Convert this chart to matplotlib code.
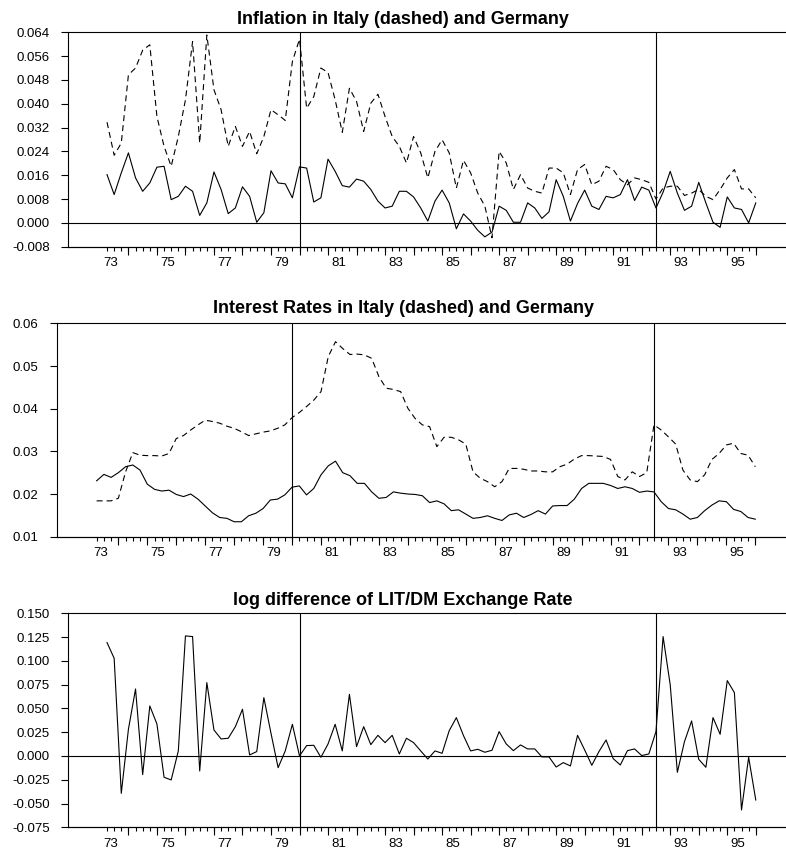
import numpy as np
import matplotlib
matplotlib.use("Agg")
import matplotlib.pyplot as plt
from matplotlib.ticker import FormatStrFormatter

plt.rcParams['font.family'] = ['Liberation Sans', 'DejaVu Sans']
plt.rcParams['lines.scale_dashes'] = False

# quarterly data, 1973Q2 .. 1996Q1
start = 1973.25
n_obs = 92
dates = start + 0.25 * np.arange(n_obs)

# inflation, Italy (dashed) and Germany
infl_italy = [
    0.0338, 0.0227, 0.0268, 0.0497, 0.0520, 0.0580, 0.0598, 0.0357, 0.0257, 0.0190,
    0.0290, 0.0413, 0.0609, 0.0268, 0.0631, 0.0447, 0.0380, 0.0257, 0.0324, 0.0257,
    0.0307, 0.0232, 0.0290, 0.0380, 0.0363, 0.0344, 0.0542, 0.0617, 0.0385, 0.0424,
    0.0520, 0.0505, 0.0413, 0.0304, 0.0452, 0.0408, 0.0307, 0.0402, 0.0432, 0.0357,
    0.0290, 0.0257, 0.0201, 0.0290, 0.0235, 0.0151, 0.0240, 0.0279, 0.0235, 0.0117,
    0.0210, 0.0168, 0.0100, 0.0056, -0.0050, 0.0240, 0.0201, 0.0112, 0.0162, 0.0117,
    0.0106, 0.0100, 0.0184, 0.0184, 0.0168, 0.0095, 0.0179, 0.0196, 0.0128, 0.0140,
    0.0190, 0.0179, 0.0145, 0.0128, 0.0151, 0.0145, 0.0136, 0.0080, 0.0117, 0.0123,
    0.0123, 0.0092, 0.0100, 0.0112, 0.0089, 0.0078, 0.0112, 0.0151, 0.0179, 0.0114,
    0.0114, 0.0084,
]
infl_germany = [
    0.0162, 0.0095, 0.0168, 0.0235, 0.0151, 0.0106, 0.0134, 0.0187, 0.0190, 0.0078,
    0.0089, 0.0123, 0.0106, 0.0025, 0.0067, 0.0171, 0.0112, 0.0031, 0.0050, 0.0121,
    0.0089, 0.0002, 0.0034, 0.0175, 0.0134, 0.0131, 0.0084, 0.0188, 0.0184, 0.0070,
    0.0084, 0.0214, 0.0173, 0.0125, 0.0120, 0.0147, 0.0140, 0.0112, 0.0073, 0.0050,
    0.0056, 0.0106, 0.0106, 0.0087, 0.0050, 0.0006, 0.0073, 0.0110, 0.0067, -0.0020,
    0.0030, 0.0006, -0.0025, -0.0047, -0.0031, 0.0056, 0.0042, 0.0002, 0.0002, 0.0067,
    0.0050, 0.0015, 0.0037, 0.0145, 0.0089, 0.0006, 0.0065, 0.0110, 0.0056, 0.0045,
    0.0089, 0.0084, 0.0095, 0.0145, 0.0075, 0.0120, 0.0110, 0.0050, 0.0103, 0.0173,
    0.0100, 0.0042, 0.0056, 0.0136, 0.0067, 0.0002, -0.0015, 0.0087, 0.0050, 0.0045,
    0.0000, 0.0067,
]

# interest rates, Italy (dashed) and Germany
rate_italy = [
    0.0184, 0.0184, 0.0184, 0.0190, 0.0252, 0.0297, 0.0291, 0.0290, 0.0290, 0.0289,
    0.0295, 0.0330, 0.0337, 0.0350, 0.0362, 0.0373, 0.0370, 0.0366, 0.0359, 0.0354,
    0.0346, 0.0337, 0.0341, 0.0345, 0.0348, 0.0354, 0.0362, 0.0379, 0.0391, 0.0405,
    0.0420, 0.0440, 0.0522, 0.0557, 0.0541, 0.0527, 0.0528, 0.0526, 0.0518, 0.0475,
    0.0448, 0.0445, 0.0440, 0.0401, 0.0377, 0.0362, 0.0358, 0.0311, 0.0333, 0.0333,
    0.0327, 0.0317, 0.0252, 0.0237, 0.0229, 0.0217, 0.0229, 0.0260, 0.0260, 0.0258,
    0.0254, 0.0254, 0.0252, 0.0252, 0.0264, 0.0270, 0.0282, 0.0290, 0.0290, 0.0289,
    0.0288, 0.0281, 0.0241, 0.0233, 0.0252, 0.0241, 0.0250, 0.0362, 0.0350, 0.0334,
    0.0317, 0.0256, 0.0233, 0.0229, 0.0245, 0.0281, 0.0295, 0.0315, 0.0319, 0.0295,
    0.0291, 0.0264,
]
rate_germany = [
    0.0231, 0.0246, 0.0239, 0.0250, 0.0264, 0.0268, 0.0256, 0.0223, 0.0211, 0.0207,
    0.0209, 0.0199, 0.0194, 0.0200, 0.0188, 0.0172, 0.0156, 0.0145, 0.0143, 0.0135,
    0.0135, 0.0149, 0.0155, 0.0166, 0.0186, 0.0188, 0.0198, 0.0216, 0.0219, 0.0198,
    0.0213, 0.0245, 0.0266, 0.0277, 0.0250, 0.0243, 0.0225, 0.0225, 0.0205, 0.0190,
    0.0192, 0.0205, 0.0202, 0.0200, 0.0199, 0.0196, 0.0180, 0.0184, 0.0177, 0.0161,
    0.0163, 0.0153, 0.0143, 0.0145, 0.0149, 0.0143, 0.0138, 0.0151, 0.0155, 0.0145,
    0.0152, 0.0161, 0.0153, 0.0172, 0.0173, 0.0173, 0.0188, 0.0213, 0.0225, 0.0225,
    0.0225, 0.0220, 0.0213, 0.0217, 0.0213, 0.0204, 0.0207, 0.0205, 0.0182, 0.0166,
    0.0163, 0.0153, 0.0141, 0.0145, 0.0161, 0.0174, 0.0184, 0.0182, 0.0164, 0.0159,
    0.0145, 0.0141,
]

# log difference of LIT/DM exchange rate
dlog_fx = [
    0.1192, 0.1027, -0.0393, 0.0280, 0.0704, -0.0196, 0.0526, 0.0336, -0.0224, -0.0252,
    0.0053, 0.1262, 0.1255, -0.0158, 0.0771, 0.0273, 0.0179, 0.0186, 0.0308, 0.0491,
    0.0011, 0.0046, 0.0613, 0.0238, -0.0123, 0.0053, 0.0333, 0.0000, 0.0109, 0.0112,
    -0.0014, 0.0126, 0.0333, 0.0053, 0.0648, 0.0098, 0.0308, 0.0119, 0.0217, 0.0140,
    0.0217, 0.0021, 0.0186, 0.0140, 0.0053, -0.0032, 0.0053, 0.0028, 0.0266, 0.0403,
    0.0214, 0.0053, 0.0070, 0.0039, 0.0060, 0.0256, 0.0126, 0.0056, 0.0116, 0.0074,
    0.0074, -0.0010, -0.0010, -0.0116, -0.0070, -0.0105, 0.0217, 0.0063, -0.0098, 0.0046,
    0.0168, -0.0028, -0.0095, 0.0056, 0.0074, 0.0004, 0.0021, 0.0256, 0.1255, 0.0747,
    -0.0172, 0.0151, 0.0368, -0.0035, -0.0119, 0.0403, 0.0228, 0.0792, 0.0666, -0.0568,
    -0.0014, -0.0463,
]

events = [1980.0, 1992.5]
label_years = list(range(1973, 1996, 2))

fig = plt.figure(figsize=(7.86, 8.5), dpi=100)


def setup_panel(rect, ylim, yticks, fmt, title, title_y, zero_line=True):
    ax = fig.add_axes(rect)
    ax.set_xlim(1971.87, 1997.06)
    ax.set_ylim(*ylim)
    ax.spines['right'].set_visible(False)
    for s in ['left', 'top', 'bottom']:
        ax.spines[s].set_linewidth(0.8)
    ax.set_yticks(yticks)
    ax.yaxis.set_major_formatter(FormatStrFormatter(fmt))
    ax.tick_params(axis='y', direction='out', length=5, width=0.8, labelsize=9.5, pad=8)

    # labels centred on each odd year, quarter ticks, longer year ticks
    ax.set_xticks([y + 0.375 for y in label_years])
    ax.set_xticklabels(["%02d" % (y % 100) for y in label_years])
    ax.tick_params(axis='x', which='major', length=0, labelsize=9.5, pad=7.5)
    ax.set_xticks(dates, minor=True)
    ax.tick_params(axis='x', which='minor', direction='out', length=3.2, width=0.8)
    sec = ax.secondary_xaxis('bottom')
    sec.set_xticks(np.arange(1974, 1997))
    sec.tick_params(direction='out', length=5.5, width=0.8, labelbottom=False)
    sec.spines['bottom'].set_linewidth(0.8)

    if zero_line:
        ax.axhline(0, color='black', lw=0.8)
    for e in events:
        ax.axvline(e, color='black', lw=0.8)
    fig.text(0.513, title_y, title, ha='center', va='center',
             fontsize=13, fontweight='bold')
    return ax


ax1 = setup_panel([0.0861, 0.7098, 0.9139, 0.2522], (-0.008, 0.064),
                  np.arange(-0.008, 0.0641, 0.008), '%.3f',
                  'Inflation in Italy (dashed) and Germany', 0.9776)
ax1.plot(dates, infl_italy, color='black', lw=0.8, dashes=(4.3, 2.9))
ax1.plot(dates, infl_germany, color='black', lw=0.8)

ax2 = setup_panel([0.0721, 0.3686, 0.9279, 0.2510], (0.01, 0.06),
                  np.arange(0.01, 0.0601, 0.01), '%.2f',
                  'Interest Rates in Italy (dashed) and Germany', 0.6365,
                  zero_line=False)
ax2.plot(dates, rate_italy, color='black', lw=0.8, dashes=(4.3, 2.9))
ax2.plot(dates, rate_germany, color='black', lw=0.8)

ax3 = setup_panel([0.0861, 0.0267, 0.9139, 0.2518], (-0.075, 0.150),
                  np.arange(-0.075, 0.1501, 0.025), '%.3f',
                  'log difference of LIT/DM Exchange Rate', 0.2933)
ax3.plot(dates, dlog_fx, color='black', lw=0.8)

fig.savefig('out.png', dpi=100)
